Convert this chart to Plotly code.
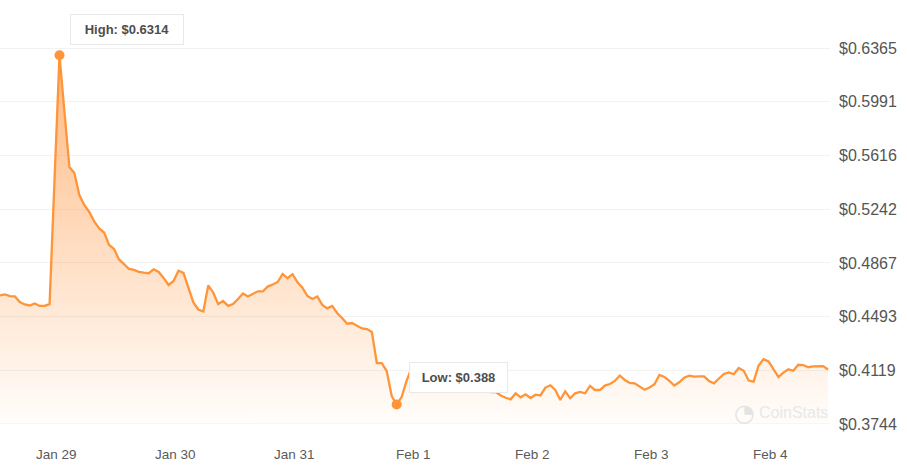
import numpy as np
import pandas as pd
import plotly.graph_objects as go

# ---- data ----
start_time = "2025-01-28 12:40"
prices = [
    0.4640, 0.4647, 0.4636, 0.4633, 0.4594, 0.4577, 0.4570, 0.4584, 0.4567, 0.4567,
    0.4580, 0.5480, 0.6314, 0.5919, 0.5535, 0.5494, 0.5340, 0.5271, 0.5222, 0.5156,
    0.5107, 0.5079, 0.4992, 0.4964, 0.4891, 0.4859, 0.4825, 0.4818, 0.4804, 0.4799,
    0.4795, 0.4822, 0.4804, 0.4762, 0.4713, 0.4741, 0.4813, 0.4797, 0.4699, 0.4591,
    0.4542, 0.4528, 0.4710, 0.4661, 0.4580, 0.4601, 0.4567, 0.4580, 0.4615, 0.4654,
    0.4633, 0.4650, 0.4669, 0.4668, 0.4702, 0.4716, 0.4734, 0.4790, 0.4760, 0.4788,
    0.4732, 0.4694, 0.4636, 0.4615, 0.4633, 0.4574, 0.4550, 0.4567, 0.4518, 0.4483,
    0.4443, 0.4448, 0.4429, 0.4410, 0.4406, 0.4385, 0.4169, 0.4169, 0.4113, 0.3939,
    0.3880, 0.3932, 0.4044, 0.4134, 0.4120, 0.4099, 0.4079, 0.4065, 0.4051, 0.4058,
    0.4037, 0.4023, 0.4016, 0.4009, 0.3995, 0.4002, 0.3988, 0.3981, 0.3974, 0.3967,
    0.3967, 0.3943, 0.3927, 0.3916, 0.3958, 0.3930, 0.3951, 0.3925, 0.3948, 0.3943,
    0.3998, 0.4014, 0.3981, 0.3911, 0.3971, 0.3923, 0.3958, 0.3967, 0.3958, 0.4009,
    0.3981, 0.3981, 0.4012, 0.4023, 0.4044, 0.4082, 0.4051, 0.4030, 0.4028, 0.4007,
    0.3983, 0.3998, 0.4021, 0.4086, 0.4072, 0.4044, 0.4012, 0.4035, 0.4067, 0.4081,
    0.4074, 0.4076, 0.4076, 0.4044, 0.4028, 0.4061, 0.4093, 0.4104, 0.4091, 0.4134,
    0.4115, 0.4047, 0.4039, 0.4152, 0.4196, 0.4180, 0.4127, 0.4072, 0.4102, 0.4125,
    0.4115, 0.4157, 0.4155, 0.4140, 0.4146, 0.4146, 0.4148, 0.4124,
]
x_tick_dates = ["2025-01-29", "2025-01-30", "2025-01-31", "2025-02-01",
                "2025-02-02", "2025-02-03", "2025-02-04"]
x_tick_labels = ["Jan 29", "Jan 30", "Jan 31", "Feb 1", "Feb 2", "Feb 3", "Feb 4"]
y_tick_values = [0.3744, 0.4119, 0.4493, 0.4867, 0.5242, 0.5616, 0.5991, 0.6365]
y_tick_labels = ["$0.3744", "$0.4119", "$0.4493", "$0.4867",
                 "$0.5242", "$0.5616", "$0.5991", "$0.6365"]

times = pd.date_range(start=start_time, periods=len(prices), freq="h")
p = np.array(prices)
imax = int(np.argmax(p))
imin = int(np.argmin(p))

LINE = "rgb(255,148,56)"
FONT = "Arial, Liberation Sans, sans-serif"

def fmt(v):
    return f"{v:.4f}".rstrip("0")

fig = go.Figure()
fig.add_trace(go.Scatter(
    x=times, y=prices, mode="lines",
    line=dict(color=LINE, width=2.3),
    fill="tozeroy",
    fillgradient=dict(
        type="vertical",
        colorscale=[[0, "rgba(255,150,60,0.02)"], [1, "rgba(255,140,50,0.62)"]],
        start=y_tick_values[0], stop=prices[imax],
    ),
    hoverinfo="skip", showlegend=False,
))
fig.add_trace(go.Scatter(
    x=[times[imax], times[imin]], y=[prices[imax], prices[imin]],
    mode="markers", marker=dict(color=LINE, size=10),
    hoverinfo="skip", showlegend=False,
))

box = dict(bgcolor="white", bordercolor="#e9e9e9", borderwidth=1, borderpad=7,
           showarrow=True, arrowcolor="rgba(0,0,0,0)",
           font=dict(family=FONT, size=13, color="#4d4d4d", weight="bold"))
fig.add_annotation(x=times[imax], y=prices[imax], ax=67, ay=-26,
                   text=f"High: ${fmt(prices[imax])}", width=98, **box)
fig.add_annotation(x=times[imin], y=prices[imin], ax=62, ay=-27,
                   text=f"Low: ${fmt(prices[imin])}", width=83, **box)

# watermark
fig.add_annotation(xref="paper", yref="paper", x=1.0, y=0.027, xanchor="right",
                   yanchor="middle", showarrow=False, text="CoinStats",
                   font=dict(family=FONT, size=16, color="#e8e8e8"))
fig.add_annotation(xref="paper", yref="paper", x=0.8975, y=0.027, xanchor="center",
                   yanchor="middle", showarrow=False, text="◔",
                   font=dict(family="DejaVu Sans", size=24, color="#e4e4e4"))

fig.update_layout(
    width=907, height=476,
    margin=dict(l=0, r=77, t=0, b=52, autoexpand=False),
    paper_bgcolor="white", plot_bgcolor="white",
    font=dict(family=FONT, color="#555555"),
    xaxis=dict(
        type="date",
        range=["2025-01-28 12:40", "2025-02-04 12:04"],
        tickvals=x_tick_dates, ticktext=x_tick_labels,
        showgrid=False, zeroline=False, showline=False,
        ticks="", ticklabelstandoff=20, automargin=False,
        tickfont=dict(family=FONT, size=13.5, color="#5a5a5a"),
        fixedrange=True,
    ),
    yaxis=dict(
        side="right",
        range=[y_tick_values[0], 0.66996],
        tickvals=y_tick_values, ticktext=y_tick_labels,
        showgrid=True, gridcolor="#f2f2f2", gridwidth=1,
        zeroline=False, showline=False,
        ticks="", ticklabelstandoff=8, automargin=False,
        tickfont=dict(family=FONT, size=16, color="#555555"),
        fixedrange=True,
    ),
    hovermode=False,
)
fig.add_shape(type="line", xref="paper", yref="y", x0=0, x1=1,
              y0=y_tick_values[0], y1=y_tick_values[0],
              line=dict(color="#efefef", width=1), layer="above")

fig.write_html("out.html", config={"displayModeBar": False},
               post_script="document.body.style.margin='0';document.body.style.padding='0';")
